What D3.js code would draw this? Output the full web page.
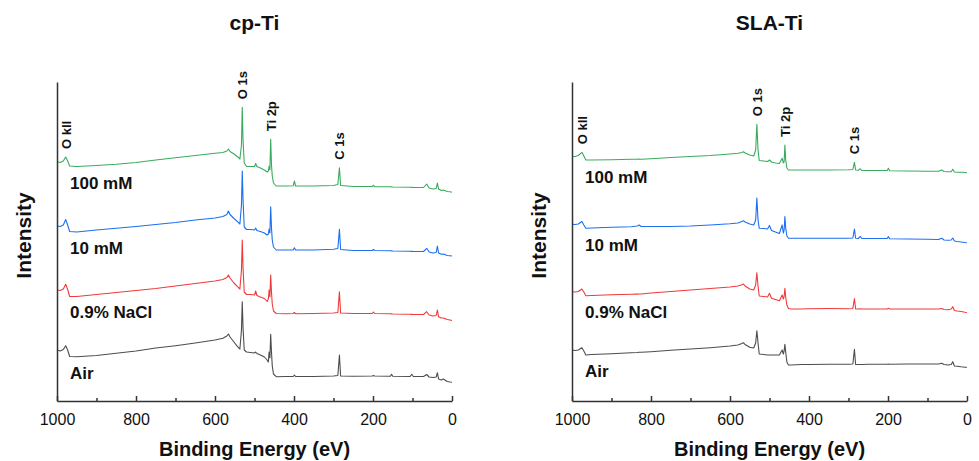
<!DOCTYPE html>
<html>
<head>
<meta charset="utf-8">
<script src="https://cdnjs.cloudflare.com/ajax/libs/d3/7.8.5/d3.min.js"></script>
<style>
  body { margin: 0; background: #fff; }
  svg { font-family: "Liberation Sans", Arial, Helvetica, sans-serif; }
</style>
</head>
<body>
<svg id="chart"></svg>
<script>
//DATA
// binding energy grid (eV) for the cp-Ti survey spectra
var beCp = [1000, 992, 984, 978, 973, 968, 950, 900, 850, 800, 750, 700, 650, 600,
  580, 570, 566, 562, 552, 543, 537, 533, 531, 529, 526, 520, 510, 500,
  497, 494, 485, 475, 468, 465, 463, 461, 459, 457, 455, 452, 445, 420,
  402, 399, 396, 350, 300, 289, 285, 282, 250, 202, 199, 196, 156, 153,
  150, 106, 102, 98, 72, 64, 58, 48, 40, 37, 34, 27, 22, 12, 5, 0];

// intensity (a.u., stacked)
var cpAir = [51, 50, 51.5, 55.3, 51, 44.5, 44.3, 45.5, 47.7, 50, 53, 55.3, 58, 61,
  62.7, 65, 67, 64, 59, 54.3, 52, 71, 99.3, 73, 51, 49, 48.5, 48,
  49, 47.5, 46, 44, 41, 39, 49, 43, 66.7, 49, 35, 27, 24.3, 24.5,
  24.5, 26, 24.5, 24.5, 25, 25.5, 46, 25, 24.7, 25, 25.5, 25, 24.8, 26.7,
  24.8, 24.5, 26.7, 24.5, 24.5, 26.5, 24, 23.5, 24, 28.3, 22, 21, 22, 19.5, 19, 18.7];
var cpNaCl = [111, 110.5, 112, 116.7, 111.5, 104.5, 104.5, 106.5, 108.5, 110.5, 112.5, 115, 117.5, 120,
  121.5, 123.5, 126, 123, 118, 114.3, 112, 131, 161, 133, 109, 106.5, 106.5, 106,
  110, 105.5, 104, 102.5, 99.5, 102, 111, 104, 126, 109, 97, 90, 87.5, 87.3,
  87.5, 88.5, 87.3, 87.5, 88, 88.5, 109.3, 88, 87.5, 87.5, 89, 87.5, 87.2, 87.1,
  87, 86.7, 86.6, 86.5, 86.5, 89.3, 86, 85, 85.5, 91, 84.3, 83, 83, 81.5, 81, 80.5];
var cp10mM = [175, 174.5, 176, 181.5, 176, 169.5, 169, 171, 172.7, 174.5, 176.5, 178.5, 181, 183,
  184.5, 186.5, 190, 186.5, 182.5, 179.3, 177, 196, 230, 201, 174, 171.5, 171.5, 171,
  173, 170.5, 169.5, 168, 166, 167, 172, 168, 194.3, 173, 161, 154, 151, 151,
  151, 153.3, 151, 151, 151.7, 152.5, 171.7, 151.5, 150.5, 150.5, 151.5, 150.5, 150.2, 150.1,
  150, 149.7, 149.6, 149.5, 149.5, 152.7, 149, 148, 148.5, 155, 148, 146.7, 147, 145.5, 145.3, 145];
var cp100mM = [239.3, 238.5, 240, 244, 240, 235, 234.5, 235.5, 236.7, 238.5, 241, 243.3, 245.5, 247.7,
  248.5, 250, 252, 249.5, 247, 244.3, 242, 256, 293.7, 261, 238, 234.5, 234.5, 234.5,
  237.5, 234.5, 233, 231, 229, 230, 235, 231, 261.7, 236, 225, 218, 215, 215,
  215.2, 220, 215, 215, 215.5, 216.5, 233.3, 215.5, 214.5, 214.5, 215.7, 214.3, 214.2, 214.1,
  214, 213.7, 213.6, 213.5, 213.5, 217, 213, 212, 212.5, 218, 212, 210.5, 211, 209.5, 209.2, 208.7];

// binding energy grid (eV) for the SLA-Ti survey spectra
var beSla = [1000, 992, 984, 975, 970, 965, 950, 900, 850, 835, 830, 825, 800, 750,
  700, 650, 600, 580, 570, 566, 562, 550, 540, 535, 532, 529, 526, 515,
  505, 500, 495, 485, 475, 468, 465, 463, 461, 459, 456, 452, 445, 420,
  400, 350, 300, 289, 285, 282, 275, 270, 266, 250, 202, 199, 196, 150,
  100, 72, 64, 58, 48, 40, 36, 32, 25, 15, 5, 0];

var slaAir = [51, 50.5, 51, 53.3, 50, 46, 46.5, 47.2, 48.3, 48.5, 48.7, 48.7, 49.3, 50.7,
  52, 53.3, 55, 56, 57.5, 58.3, 56.5, 53.7, 53, 58, 70.3, 58, 47, 46.5,
  46, 46, 46, 46, 46, 51, 47, 50, 56.7, 49, 39, 36, 36, 36.5,
  36.5, 36.7, 36.7, 37, 51.7, 36.5, 36.5, 36.5, 36.5, 36.7, 36.8, 37, 36.8, 37,
  37, 37, 37.7, 36.5, 36, 36.5, 39.3, 35, 34.7, 34.2, 33.8, 33.7];
var slaNaCl = [109.3, 109, 109.5, 112, 109, 105.3, 105.5, 106.2, 106.7, 106.9, 107, 107, 108, 109.5,
  111, 112.5, 114, 115, 116.2, 117, 115, 112, 111, 116, 128.3, 115, 105, 104.5,
  104, 107.7, 102.7, 101.5, 100.3, 106, 102, 104.5, 112.7, 104, 96, 92.5, 92, 92,
  92.3, 92.5, 92.3, 92.5, 102.5, 92, 92, 92.2, 92, 92, 92, 92.7, 92, 92,
  92, 92, 92.5, 91.5, 91.2, 92, 94.3, 90.5, 90, 89.5, 88.7, 88.5];
var sla10mM = [176.7, 176.5, 177, 179.5, 176, 172.7, 173, 173.7, 174.3, 175, 176, 174.5, 174.5, 174.5,
  175, 176, 177.2, 178, 179.5, 180.3, 179, 177, 176, 181, 203, 181, 172.7, 172.5,
  172, 175.5, 170.5, 169, 167.5, 176, 168, 171, 184.5, 173, 165, 162.7, 162.7, 162.7,
  162.7, 162.7, 162.7, 163, 172, 162.7, 162.5, 164.5, 162.5, 162.5, 162.5, 164.5, 162.3, 162,
  161.7, 161.5, 162.7, 161, 160.7, 161, 163, 160, 159.5, 159, 158.5, 158.3];
var sla100mM = [244.5, 244.5, 245.5, 248.7, 245, 241, 241, 241.2, 241.7, 241.8, 242, 241.8, 242.3, 243.5,
  244.5, 245.5, 247, 247.7, 248.5, 249.3, 248, 246, 245, 251, 276.8, 251, 240.5, 240,
  239.5, 241, 239, 238, 237.5, 242.7, 238, 239, 256, 241, 233, 231, 231, 231,
  231, 231, 231.3, 231.5, 238.7, 231, 230.7, 232.2, 230.5, 230.5, 230.5, 232.7, 230.3, 230,
  229.7, 229.7, 231, 229.5, 229.2, 229.2, 231.7, 229, 228.8, 228.8, 228.5, 228.3];

var samples = ["Air", "0.9% NaCl", "10 mM", "100 mM"];
var peakNames = ["O kll", "O 1s", "Ti 2p", "C 1s"];
var cpPeaks = [978, 531, 459, 285];
var slaPeaks = [975, 532, 461, 285];
var majorTicks = [1000, 800, 600, 400, 200, 0];
var minorTicks = [900, 700, 500, 300, 100];

//LAYOUT
var width = 979,
    height = 461;

var colour = ["#4d4d4d", "#f03a3a", "#1b6ff0", "#3aab5e"];

var panels = [
  { title: "cp-Ti", left: 57, right: 452, be: beCp, series: [cpAir, cpNaCl, cp10mM, cp100mM], peaks: cpPeaks },
  { title: "SLA-Ti", left: 572, right: 967, be: beSla, series: [slaAir, slaNaCl, sla10mM, sla100mM], peaks: slaPeaks }
];

var svg = d3.select("#chart")
  .attr("width", width)
  .attr("height", height);

// intensity scale is shared by both panels
var y = d3.scaleLinear()
  .domain([0, 319])
  .range([401, 82]);

panels.forEach(function (p) {
  var x = d3.scaleLinear()
    .domain([1000, 0])
    .range([p.left, p.right]);

  var g = svg.append("g");
  var mid = (p.left + p.right) / 2;

  var line = d3.line()
    .x(function (d) { return x(d[0]); })
    .y(function (d) { return y(d[1]); });

  // spectra
  p.series.forEach(function (vals, i) {
    g.append("path")
      .datum(d3.zip(p.be, vals))
      .attr("d", line)
      .attr("fill", "none")
      .attr("stroke", colour[i])
      .attr("stroke-width", 1.1)
      .attr("stroke-linejoin", "round");
  });

  // sample names, sitting just under each trace
  var i900 = p.be.indexOf(900);
  p.series.forEach(function (vals, i) {
    g.append("text")
      .attr("x", x(967))
      .attr("y", y(vals[i900]) + 23.5)
      .attr("font-size", 17)
      .attr("font-weight", "bold")
      .attr("fill", "#111")
      .text(samples[i]);
  });

  // peak labels over the top trace
  var top = p.series[p.series.length - 1];
  p.peaks.forEach(function (be, i) {
    var k = p.be.indexOf(be);
    g.append("text")
      .attr("transform", "translate(" + (x(be) + 5) + "," + (y(top[k]) - 8) + ") rotate(-90)")
      .attr("font-size", 13)
      .attr("font-weight", "bold")
      .attr("fill", "#111")
      .text(peakNames[i]);
  });

  // x axis: major ticks
  var xAxis = g.append("g")
    .attr("transform", "translate(0,401)")
    .call(d3.axisBottom(x)
      .tickValues(majorTicks)
      .tickFormat(d3.format("d"))
      .tickSizeInner(-5)
      .tickSizeOuter(0)
      .tickPadding(12.5));
  xAxis.selectAll("text")
    .attr("font-size", 16)
    .attr("font-family", "'Liberation Sans', Arial, sans-serif")
    .attr("fill", "#111");

  // x axis: minor ticks
  var xMinor = g.append("g")
    .attr("transform", "translate(0,401)")
    .call(d3.axisBottom(x)
      .tickValues(minorTicks)
      .tickSize(-3)
      .tickFormat(""));
  xMinor.select(".domain").remove();

  // y axis, no ticks
  var yAxis = g.append("g")
    .attr("transform", "translate(" + p.left + ",0)")
    .call(d3.axisLeft(y).tickValues([]).tickSizeOuter(0));

  g.selectAll(".domain, .tick line")
    .attr("stroke", "#333")
    .attr("stroke-width", 1.5);

  // titles
  g.append("text")
    .attr("x", mid)
    .attr("y", 30)
    .attr("text-anchor", "middle")
    .attr("font-size", 21)
    .attr("font-weight", "bold")
    .attr("fill", "#111")
    .text(p.title);

  g.append("text")
    .attr("x", mid)
    .attr("y", 456)
    .attr("text-anchor", "middle")
    .attr("font-size", 20)
    .attr("font-weight", "bold")
    .attr("fill", "#111")
    .text("Binding Energy (eV)");

  g.append("text")
    .attr("transform", "translate(" + (p.left - 26) + ",235.5) rotate(-90)")
    .attr("text-anchor", "middle")
    .attr("font-size", 21)
    .attr("font-weight", "bold")
    .attr("fill", "#111")
    .text("Intensity");
});
</script>
</body>
</html>
